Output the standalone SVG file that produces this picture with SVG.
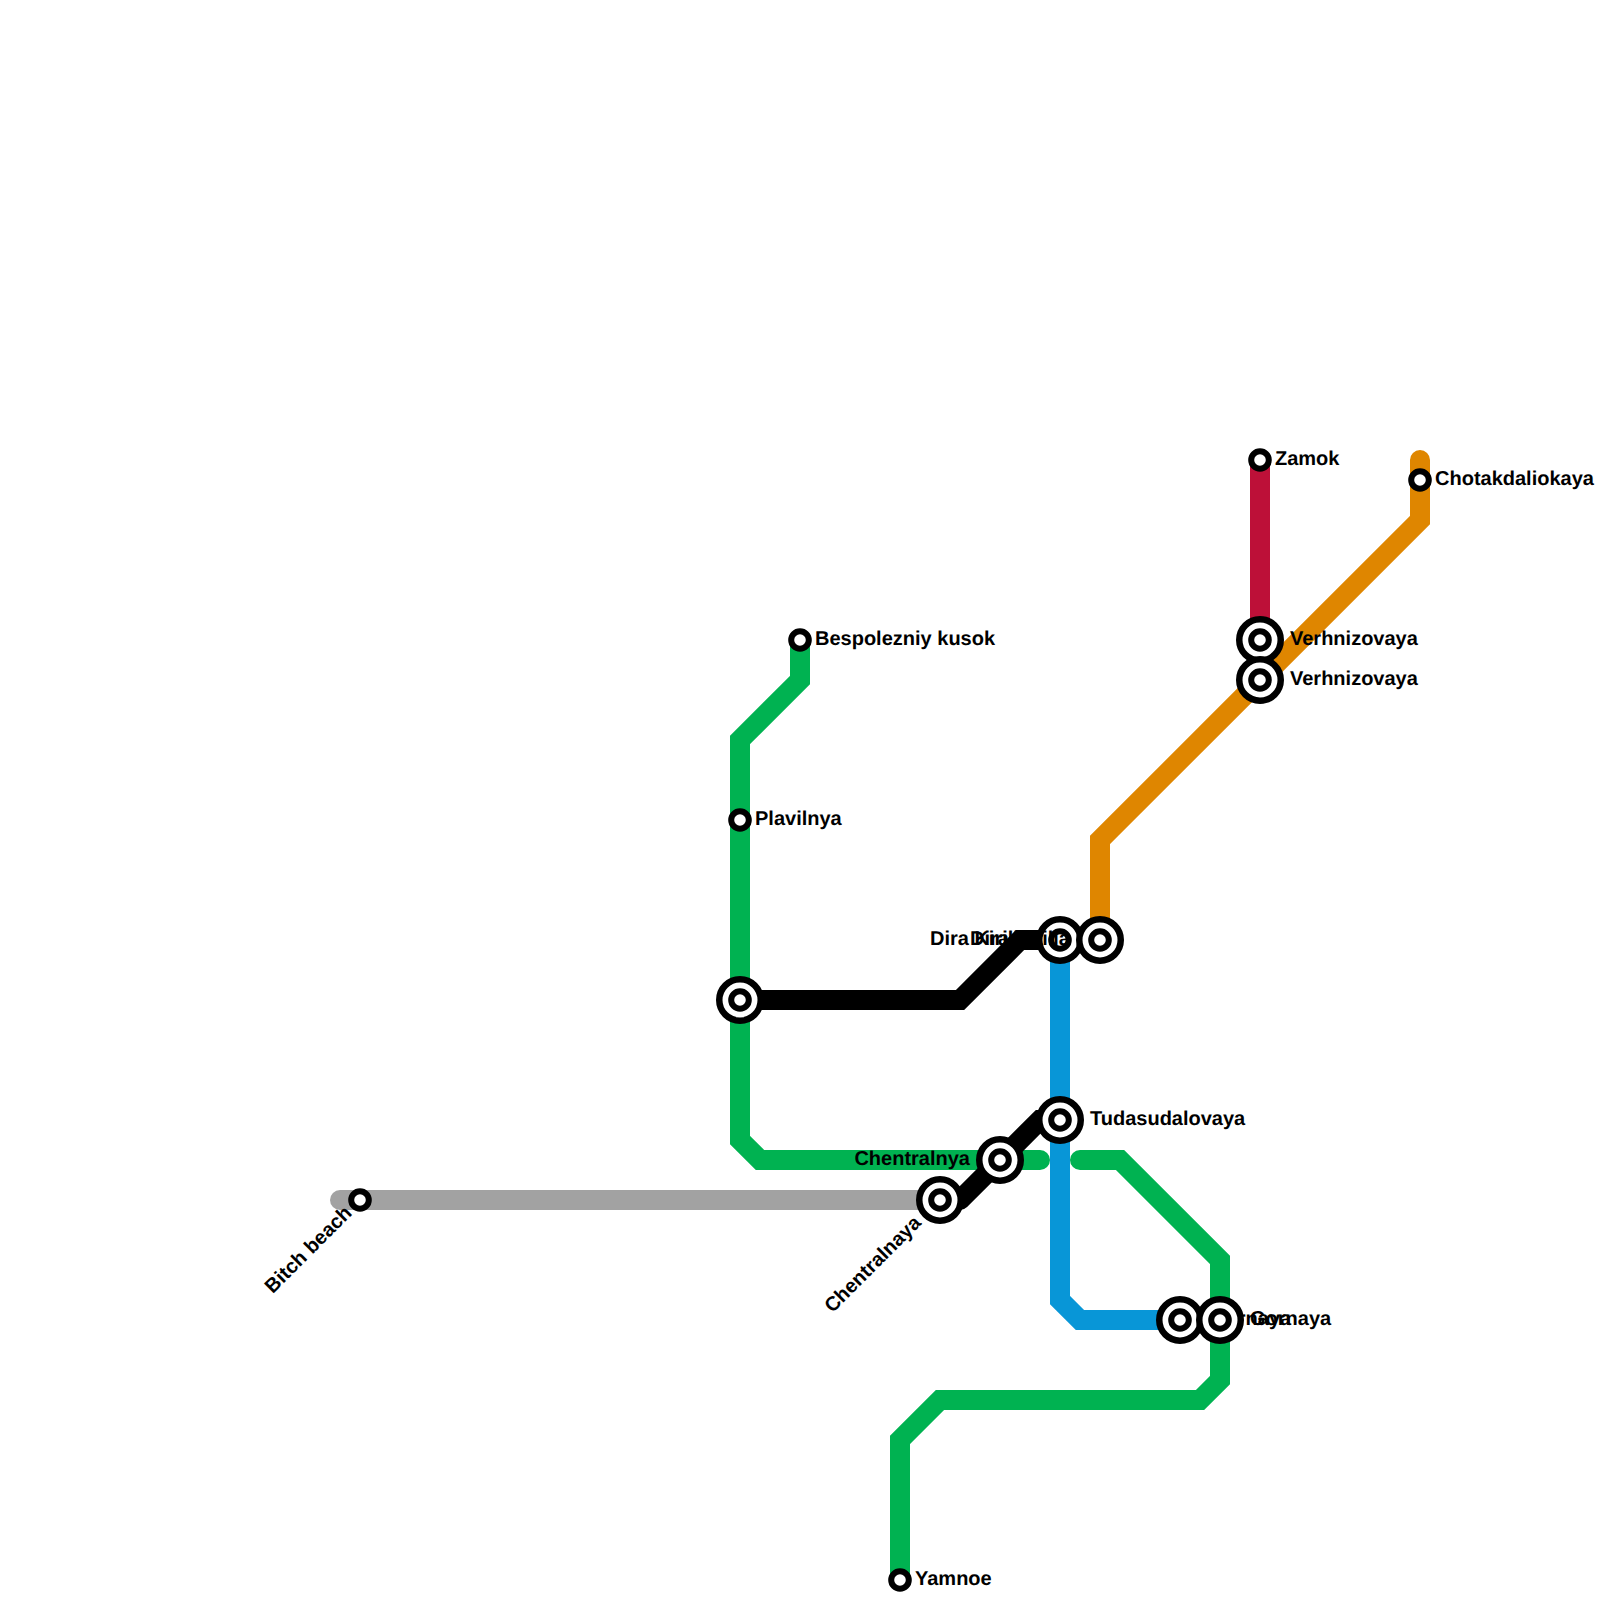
<svg xmlns="http://www.w3.org/2000/svg" width="1600" height="1600" viewBox="0 0 1600 1600">
<style>
.l{fill:none;stroke-width:20;stroke-linecap:round;stroke-linejoin:miter}
text{font-family:"Liberation Sans",Arial,sans-serif;font-weight:700;font-size:20px;fill:#000;text-rendering:geometricPrecision}
.o{fill:#fff;stroke:#000;stroke-width:6.5}
.i{fill:#fff;stroke:#000;stroke-width:6}
</style>
<defs>
<g id="s"><circle r="8.8" class="i"/></g>
<g id="b"><circle r="20.75" class="o"/><circle r="8.8" class="i"/></g>
</defs>
<g id="connectors">
<path class="l" stroke="#a2a2a2" d="M340 1200H940"/>
<path class="l" stroke="#00b251" d="M800 640V680L740 740V1140L760 1160H1040"/>
<path class="l" stroke="#00b251" d="M1080 1160H1120L1220 1260V1380L1200 1400H940L900 1440V1580"/>
<path class="l" stroke="#df8600" d="M1420 460V520L1100 840V940"/>
<path class="l" stroke="#bd1038" d="M1260 460V640"/>
<path class="l" stroke="#0896d7" d="M1060 940V1300L1080 1320H1180"/>
<path class="l" stroke="#000" d="M740 1000H960L1020 940H1060"/>
<path class="l" stroke="#000" d="M960 1200L1040 1120H1060"/>
</g>
<g id="n-zamok"><use href="#s" x="1260" y="460"/><text x="1275" y="465">Zamok</text></g>
<g id="n-chotak"><use href="#s" x="1420" y="480"/><text x="1435" y="485">Chotakdaliokaya</text></g>
<g id="n-verh1"><use href="#b" x="1260" y="640"/><text x="1290" y="645">Verhnizovaya</text></g>
<g id="n-verh2"><use href="#b" x="1260" y="680"/><text x="1290" y="685">Verhnizovaya</text></g>
<g id="n-besp"><use href="#s" x="800" y="640"/><text x="815" y="645">Bespolezniy kusok</text></g>
<g id="n-plav"><use href="#s" x="740" y="820"/><text x="755" y="825">Plavilnya</text></g>
<g id="n-plav2"><use href="#b" x="740" y="1000"/></g>
<g id="n-dira1"><use href="#b" x="1060" y="940"/><text x="1030" y="945" text-anchor="end">Dira Kirilla</text></g>
<g id="n-dira2"><use href="#b" x="1100" y="940"/><text x="1070" y="945" text-anchor="end">Dira Kirilla</text></g>
<g id="n-tuda"><use href="#b" x="1060" y="1120"/><text x="1090" y="1125">Tudasudalovaya</text></g>
<g id="n-chen1"><use href="#b" x="1000" y="1160"/><text x="970" y="1165" text-anchor="end">Chentralnya</text></g>
<g id="n-chen2"><use href="#b" x="940" y="1200"/><text transform="translate(922 1224) rotate(-45)" text-anchor="end">Chentralnaya</text></g>
<g id="n-bitch"><use href="#s" x="360" y="1200"/><text transform="translate(353 1214) rotate(-45)" text-anchor="end">Bitch beach</text></g>
<g id="n-j1"><use href="#b" x="1180" y="1320"/><text x="1210" y="1325">Gornaya</text></g>
<g id="n-j2"><use href="#b" x="1220" y="1320"/><text x="1250" y="1325">Gornaya</text></g>
<g id="n-yam"><use href="#s" x="900" y="1580"/><text x="915" y="1585">Yamnoe</text></g>
</svg>
